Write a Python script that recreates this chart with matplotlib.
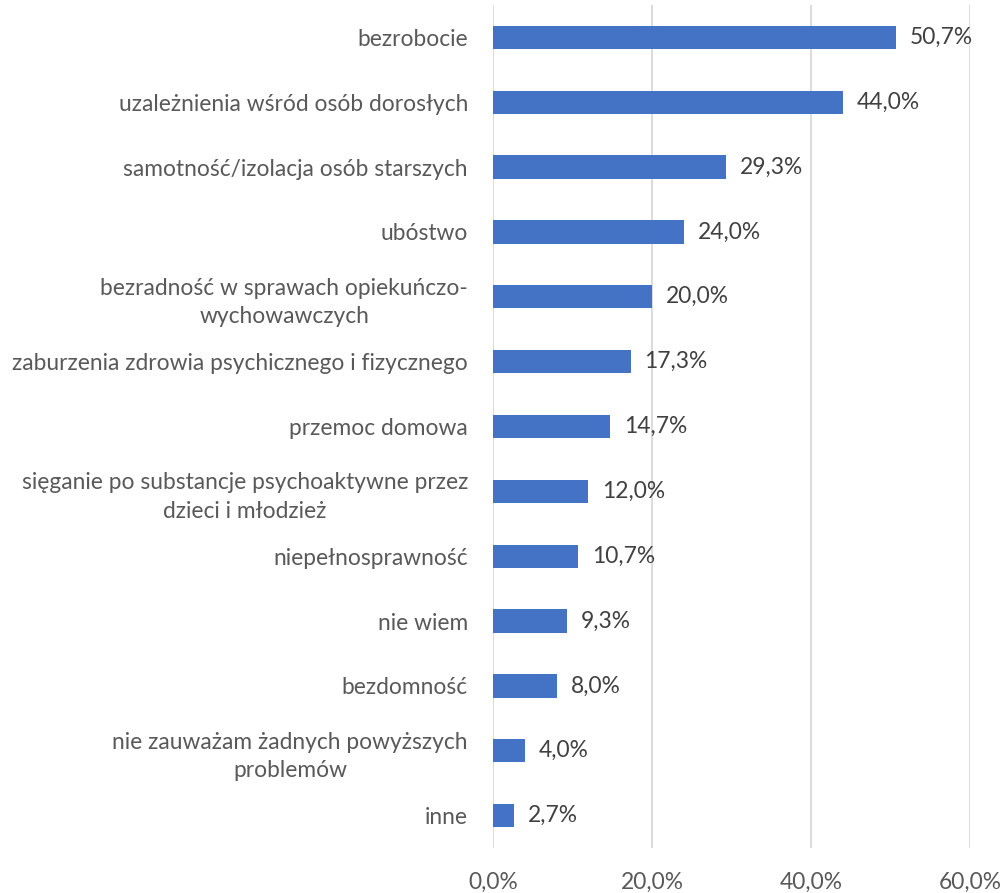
import matplotlib
matplotlib.use("Agg")
import matplotlib.pyplot as plt
from matplotlib.ticker import FuncFormatter

categories = [
    "bezrobocie",
    "uzależnienia wśród osób dorosłych",
    "samotność/izolacja osób starszych",
    "ubóstwo",
    "bezradność w sprawach opiekuńczo-\nwychowawczych",
    "zaburzenia zdrowia psychicznego i fizycznego",
    "przemoc domowa",
    "sięganie po substancje psychoaktywne przez\ndzieci i młodzież",
    "niepełnosprawność",
    "nie wiem",
    "bezdomność",
    "nie zauważam żadnych powyższych\nproblemów",
    "inne",
]
values = [50.7, 44.0, 29.3, 24.0, 20.0, 17.3, 14.7, 12.0, 10.7, 9.3, 8.0, 4.0, 2.7]
xticks = [0, 20, 40, 60]

plt.rcParams['font.family'] = ['Lato', 'DejaVu Sans']
text_color = "#595959"
fs = 16.4

fig = plt.figure(figsize=(10.03, 8.93), dpi=100)
ax = fig.add_axes([493/1003, 1-848/893, (970-493)/1003, (848-5)/893])

y = list(range(len(categories)))
ax.barh(y, values, height=0.36, color="#4472C4", zorder=3)
ax.set_ylim(len(categories)-0.5, -0.5)
ax.set_xlim(0, 60)
ax.set_yticks(y)
ax.set_yticklabels(categories, fontsize=fs, color=text_color, multialignment='center', linespacing=1.45)
ax.set_xticks(xticks)
ax.xaxis.set_major_formatter(FuncFormatter(lambda v, p: f"{v:.1f}%".replace(".", ",")))
ax.tick_params(axis='x', labelsize=fs, labelcolor=text_color, length=0, pad=17)
ax.tick_params(axis='y', length=0, pad=18)
ax.grid(axis='x', color="#D9D9D9", linewidth=1.3, zorder=0)
for s in ax.spines.values():
    s.set_visible(False)

for yi, v in zip(y, values):
    ax.annotate(f"{v:.1f}%".replace(".", ","), (v, yi), xytext=(10, 0), textcoords='offset points',
                va='center', ha='left', fontsize=fs, color="#404040")

fig.savefig("out.png", dpi=100)
